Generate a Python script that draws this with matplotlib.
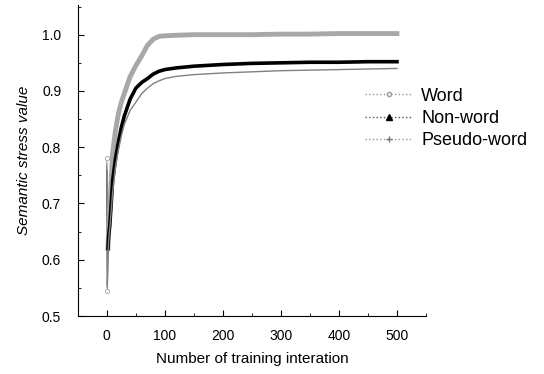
import matplotlib
matplotlib.use("Agg")
import matplotlib.pyplot as plt
from matplotlib.lines import Line2D
from matplotlib.ticker import MultipleLocator

plt.rcParams["font.family"] = ["Liberation Sans", "DejaVu Sans"]

iterations = [0, 1, 2, 3, 4, 5, 7, 10, 15, 20, 25, 30, 40, 50, 60, 70, 80,
              90, 100, 120, 150, 200, 250, 300, 350, 400, 450, 500]
word = [0.78, 0.545, 0.62, 0.65, 0.67, 0.69, 0.73, 0.79, 0.83, 0.86, 0.88,
        0.895, 0.925, 0.945, 0.962, 0.981, 0.992, 0.997, 0.998, 0.999, 1.0,
        1.0, 1.0, 1.001, 1.001, 1.002, 1.002, 1.002]
non_word = [0.76, 0.555, 0.62, 0.64, 0.65, 0.66, 0.69, 0.74, 0.78, 0.81,
            0.835, 0.855, 0.885, 0.905, 0.915, 0.922, 0.93, 0.935, 0.938,
            0.941, 0.944, 0.947, 0.949, 0.95, 0.951, 0.951, 0.952, 0.952]
pseudo_word = [0.77, 0.55, 0.61, 0.63, 0.645, 0.655, 0.68, 0.72, 0.765,
               0.795, 0.82, 0.84, 0.865, 0.88, 0.895, 0.905, 0.913, 0.918,
               0.922, 0.926, 0.929, 0.932, 0.934, 0.936, 0.937, 0.938,
               0.939, 0.94]
labels = ["Word", "Non-word", "Pseudo-word"]

fig = plt.figure(figsize=(5.44, 3.74), dpi=100)
ax = fig.add_axes([0.143, 0.155, 0.64, 0.832])

# first couple of iterations jump around: thin lines there
ax.plot(iterations[:3], word[:3], color="#a0a0a0", lw=0.8, marker="o", ms=3,
        mfc="white", mec="#a0a0a0", mew=0.6, markevery=[0, 1])
ax.plot(iterations[:3], non_word[:3], color="#333333", lw=0.8)
ax.plot(iterations[:3], pseudo_word[:3], color="#808080", lw=0.8)

ax.plot(iterations[2:], word[2:], color="#a8a8a8", lw=3.5)
ax.plot(iterations[2:], non_word[2:], color="black", lw=2.6)
ax.plot(iterations[2:], pseudo_word[2:], color="#808080", lw=1.0)

ax.set_xlim(-50, 550)
ax.set_ylim(0.5, 1.053)
ax.set_xticks([0, 100, 200, 300, 400, 500])
ax.set_yticks([0.5, 0.6, 0.7, 0.8, 0.9, 1.0])
ax.xaxis.set_minor_locator(MultipleLocator(50))
ax.yaxis.set_minor_locator(MultipleLocator(0.05))
ax.tick_params(which="both", direction="in", labelsize=10)
ax.tick_params(which="major", length=4)
ax.tick_params(which="minor", length=2.5)
ax.tick_params(axis="x", pad=9)
ax.tick_params(axis="y", pad=12)
ax.spines["top"].set_visible(False)
ax.spines["right"].set_visible(False)

ax.set_xlabel("Number of training interation", fontsize=11, labelpad=7)
ax.set_ylabel("Semantic stress value", fontsize=11, style="italic", labelpad=8)

handles = [
    Line2D([], [], color="#999999", ls=":", lw=1, marker="o", ms=3,
           mfc="white", mec="#999999"),
    Line2D([], [], color="#555555", ls=":", lw=1, marker="^", ms=4,
           mfc="black", mec="black"),
    Line2D([], [], color="#999999", ls=":", lw=1, marker="+", ms=4,
           mec="#777777"),
]
fig.legend(handles, labels, loc="upper left", bbox_to_anchor=(0.655, 0.79),
           frameon=False, fontsize=13, handlelength=2.6, handletextpad=0.5,
           labelspacing=0.3, borderpad=0)

fig.savefig("out.png", dpi=100)
